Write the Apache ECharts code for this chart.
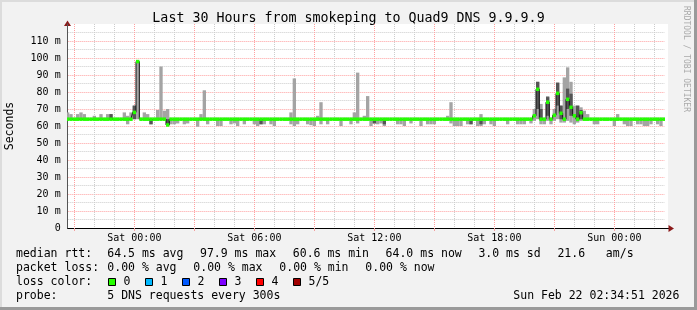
<!DOCTYPE html>
<html><head><meta charset="utf-8">
<script src="https://cdn.jsdelivr.net/npm/echarts@6/dist/echarts.min.js"></script>
<style>html,body{margin:0;padding:0;background:#f2f2f2}#c{width:697px;height:310px}</style>
</head><body><div id="c"></div>
<script>
// ---- time base: samples every 10 minutes, Fri 20:40 .. Sun 02:30 ----
const START_MIN = 20 * 60 + 40;
const STEP_MIN = 10;
const SAMPLE_COUNT = 180;
const dayNames = ['Fri', 'Sat', 'Sun'];
const tickLabels = ['Sat 00:00', 'Sat 06:00', 'Sat 12:00', 'Sat 18:00', 'Sun 00:00'];
const yTickValues = [0, 10, 20, 30, 40, 50, 60, 70, 80, 90, 100, 110];

// ---- median rtt (ms) ----
const median = [
64,64,64,64,64,64,64,64,64,64,64,64,64,64,64,64,64,64,64,64,
68,97.9,64,64,64,64,64,64,64,64,60.6,64,64,64,64,64,64,64,64,64,
64,64,64,64,64,64,64,64,64,64,64,64,64,64,64,64,64,64,64,64,
64,64,64,64,64,64,64,64,64,64,64,64,64,64,64,64,64,64,64,64,
64,64,64,64,64,64,64,64,64,64,64,64,64,64,64,64,64,64,64,64,
64,64,64,64,64,64,64,64,64,64,64,64,64,64,64,64,64,64,64,64,
64,64,64,64,64,64,64,64,64,64,64,64,64,64,64,64,64,64,64,64,
66,81.6,64,64,74,64,66.3,79.2,67.5,64,75.7,71,66,64,67.8,64,64,64,64,64,
64,64,64,64,64,64,64,64,64,64,64,64,64,64,64,64,64,64,64,64
];
// ---- smoke: highest ping (ms) ----
const smokeMax = [
68,67,64,67,68,67,64,64,66,64,67,64,67,67,64,64,64,68,66,68,
72,98.5,64,68,67,64,64,69.4,95,69,70,64,64,64,64,64,64,64,64,64,
67,81,64,64,64,64,64,64,64,64,64,64,64,64,64,64,64,64,64,64,
64,64,64,64,64,64,64,68,88,64,64,64,64,64,64,66,74,64,64,64,
64,64,64,64,64,64,68,91.4,64,66,77.6,64,64,64,64,64,64,64,64,64,
64,64,64,64,64,64,64,64,64,64,64,64,64,64,66,74,64,64,64,64,
64,64,64,64,67,64,64,64,64,64,64,64,64,64,64,64,64,64,64,64,
70,86,73,64,77.6,64,70,85.5,72,88.6,94.5,86,72,72,71,69,67,64,64,64,
64,64,64,64,64,67,64,64,64,64,64,64,64,64,64,64,64,64,64,64
];
// ---- smoke: lowest ping (ms) ----
const smokeMin = [
64,64,64,64,64,64,64,64,64,64,64,64,64,64,64,64,64,64,61,64,
64,64,64,64,64,61,64,64,64,64,60,61,61,61.5,64,61,61.5,64,64,59.6,
64,64,61,64,64,60,60,64,64,61,61.5,60,64,61,64,64,61,60,61,61,
64,61,60,64,64,64,64,61,60,61,64,64,61,60.5,60,64,61,64,61,64,
64,64,60,64,64,61,64,61.5,64,64,64,60,61.5,61,61.5,60,64,64,64,61,
61,60,64,61.5,64,64,60,64,61,61,61,64,64,64,64,61.5,60,60,60,64,
61,61,64,60,60,61,64,61,60,64,64,64,61,64,64,61,61,61,64,61.5,
63,64,61,61,63,61,63,64,62,62,63,62,61,62,63,64,64,64,61,61,
64,64,64,64,60,64,64,61,60,60,64,61,61,60,60,61,64,61,60,64
];
// ---- dense (dark) smoke: [sample index, low ms, high ms] ----
const darkSmoke = [
[13,64,67],[20,64,72],[25,61,64],[30,60.6,64],[58,61,64],[92,61.5,64],[95,61,64],
[121,61,64],[124,61,64],[141,70,86],[142,64,70],[144,66,77],[147,72,85.5],[148,64,72],
[150,70,82],[151,66,79],[153,64,72],[154,64,69.4]
];

// ---- category labels ----
const categories = [];
for (let i = 0; i < SAMPLE_COUNT; i++) {
  const t = START_MIN + STEP_MIN * i;
  const d = Math.floor(t / 1440), m = t % 1440;
  categories.push(dayNames[d] + ' ' + String(Math.floor(m / 60)).padStart(2, '0') + ':' + String(m % 60).padStart(2, '0'));
}
function isHour(v) { return v.slice(-2) === '00'; }
function isMajor(v) { return isHour(v) && parseInt(v.slice(4, 6), 10) % 3 === 0; }

const MONO = '"DejaVu Sans Mono", monospace';
const chart = echarts.init(document.getElementById('c'), null, {renderer: 'canvas'});

function bandRender(color) {
  return function (params, api) {
    const i = api.value(0), lo = api.value(1), hi = api.value(2);
    const pHi = api.coord([i, hi]), pLo = api.coord([i, lo]);
    const w = api.size([1, 0])[0];
    return {type: 'rect', shape: {x: pHi[0] - w / 2, y: pHi[1], width: w, height: Math.max(0, pLo[1] - pHi[1])}, style: {fill: color}};
  };
}
function medianRender(params, api) {
  const i = api.value(0), v = api.value(1);
  const p = api.coord([i, v]);
  const w = api.size([1, 0])[0];
  return {type: 'rect', shape: {x: p[0] - w / 2, y: p[1] - 1.75, width: w, height: 3.5}, style: {fill: '#24ff00'}};
}

const legendFont = '11.5px ' + MONO;
function txt(x, y, s, extra) {
  return Object.assign({type: 'text', x: x, y: y, style: {text: s, font: legendFont, fill: '#000', textAlign: 'left', align: 'left', textVerticalAlign: 'middle', verticalAlign: 'middle'}}, extra || {});
}
const lossColors = ['#26ff00', '#00b8ff', '#0059ff', '#7e00ff', '#ff0000', '#a10000'];
const lossNames = ['0', '1', '2', '3', '4', '5/5'];
const graphics = [
  {type: 'rect', z: -100, shape: {x: 67, y: 24, width: 601, height: 204}, style: {fill: '#ffffff'}},
  {type: 'rect', shape: {x: 0, y: 0, width: 697, height: 2}, style: {fill: '#dcdcdc'}},
  {type: 'rect', shape: {x: 0, y: 0, width: 2, height: 310}, style: {fill: '#dcdcdc'}},
  {type: 'rect', shape: {x: 694, y: 0, width: 3, height: 310}, style: {fill: '#9a9a9a'}},
  {type: 'rect', shape: {x: 0, y: 307, width: 697, height: 3}, style: {fill: '#9a9a9a'}},
  {type: 'line', shape: {x1: 664, y1: 228.5, x2: 669, y2: 228.5}, style: {stroke: '#000', lineWidth: 1}},
  {type: 'polygon', shape: {points: [[674, 228.5], [668.5, 225], [668.5, 232]]}, style: {fill: '#8b1a1a'}},
  {type: 'polygon', shape: {points: [[67.5, 20.5], [64, 26], [71, 26]]}, style: {fill: '#8b1a1a'}},
  {type: 'text', x: 348.5, y: 19, style: {text: 'Last 30 Hours from smokeping to Quad9 DNS 9.9.9.9', font: '13.3px ' + MONO, fill: '#000', textAlign: 'center', align: 'center', textVerticalAlign: 'middle', verticalAlign: 'middle'}},
  {type: 'text', x: 10, y: 126, rotation: Math.PI / 2, style: {text: 'Seconds', font: '11.5px ' + MONO, fill: '#000', textAlign: 'center', align: 'center', textVerticalAlign: 'middle', verticalAlign: 'middle'}},
  {type: 'text', x: 686.5, y: 59, rotation: -Math.PI / 2, style: {text: 'RRDTOOL / TOBI OETIKER', font: '8px ' + MONO, fill: '#aaaaaa', textAlign: 'center', align: 'center', textVerticalAlign: 'middle', verticalAlign: 'middle'}},
  txt(16, 254.3, 'median rtt:'),
  txt(107.3, 254.3, '64.5 ms avg'),
  txt(200, 254.3, '97.9 ms max'),
  txt(292.8, 254.3, '60.6 ms min'),
  txt(385.6, 254.3, '64.0 ms now'),
  txt(478.4, 254.3, '3.0 ms sd'),
  txt(557.4, 254.3, '21.6   am/s'),
  txt(16, 267.9, 'packet loss:'),
  txt(107.3, 267.9, '0.00 % avg'),
  txt(193.3, 267.9, '0.00 % max'),
  txt(279.3, 267.9, '0.00 % min'),
  txt(365.3, 267.9, '0.00 % now'),
  txt(16, 281.9, 'loss color:'),
  txt(16, 295.6, 'probe:'),
  txt(107.3, 295.6, '5 DNS requests every 300s'),
  txt(513.3, 295.6, 'Sun Feb 22 02:34:51 2026')
];
lossColors.forEach(function (c, k) {
  const bx = 108.5 + k * 37;
  graphics.push({type: 'rect', shape: {x: bx, y: 278.5, width: 7, height: 7}, style: {fill: c, stroke: '#000', lineWidth: 1}});
  graphics.push(txt(bx + 15, 281.9, lossNames[k]));
});

const option = {
  backgroundColor: '#f2f2f2',
  animation: false,
  grid: {left: 67.67, right: 32.67, top: 24, bottom: 82, show: false},
  xAxis: [
    {type: 'category', position: 'bottom', data: categories, boundaryGap: false,
     axisLine: {show: false}, axisTick: {show: false}, axisLabel: {show: false},
     splitLine: {show: true, interval: function (i, v) { return isHour(v) && !isMajor(v); }, lineStyle: {color: '#cccccc', width: 1, type: [1, 1]}}},
    {type: 'category', position: 'bottom', data: categories, boundaryGap: false,
     axisLine: {show: true, onZero: false, lineStyle: {color: '#000', width: 1}},
     axisTick: {show: true, interval: function (i, v) { return isMajor(v); }, length: 3, lineStyle: {color: '#f4a0a0'}},
     axisLabel: {interval: function (i, v) { return tickLabels.indexOf(v) >= 0; }, fontFamily: MONO, fontSize: 10, color: '#000', margin: 5},
     splitLine: {show: true, interval: function (i, v) { return isMajor(v); }, lineStyle: {color: '#ffa0a0', width: 1, type: [1, 1]}}}
  ],
  yAxis: {type: 'value', min: 0, max: 120, interval: 10,
    axisLine: {show: true, lineStyle: {color: '#555', width: 1}},
    axisTick: {show: false},
    axisLabel: {fontFamily: MONO, fontSize: 10, color: '#000', margin: 7,
      formatter: function (v) { return yTickValues.indexOf(v) < 0 ? '' : (v === 0 ? '0' : v + ' m'); }},
    splitLine: {show: true, showMinLine: false, showMaxLine: false, lineStyle: {color: '#ffa0a0', width: 1, type: [1, 1]}},
    minorTick: {show: false, splitNumber: 2},
    minorSplitLine: {show: true, lineStyle: {color: '#cccccc', width: 1, type: [1, 1]}}
  },
  graphic: graphics,
  series: [
    {type: 'custom', xAxisIndex: 1, z: 2, renderItem: bandRender('#a4a4a4'), encode: {x: 0, y: [1, 2]},
     data: smokeMin.map(function (lo, i) { return [i, lo, smokeMax[i]]; }), clip: true},
    {type: 'custom', xAxisIndex: 1, z: 3, renderItem: bandRender('#555555'), encode: {x: 0, y: [1, 2]},
     data: darkSmoke, clip: true},
    {type: 'line', xAxisIndex: 1, z: 4, data: median, step: 'middle', showSymbol: false, symbol: 'none',
     lineStyle: {color: '#111', width: 1}},
    {type: 'custom', xAxisIndex: 1, z: 5, renderItem: medianRender, encode: {x: 0, y: 1},
     data: median.map(function (v, i) { return [i, v]; }), clip: true}
  ]
};
chart.setOption(option);
</script>
</body></html>
